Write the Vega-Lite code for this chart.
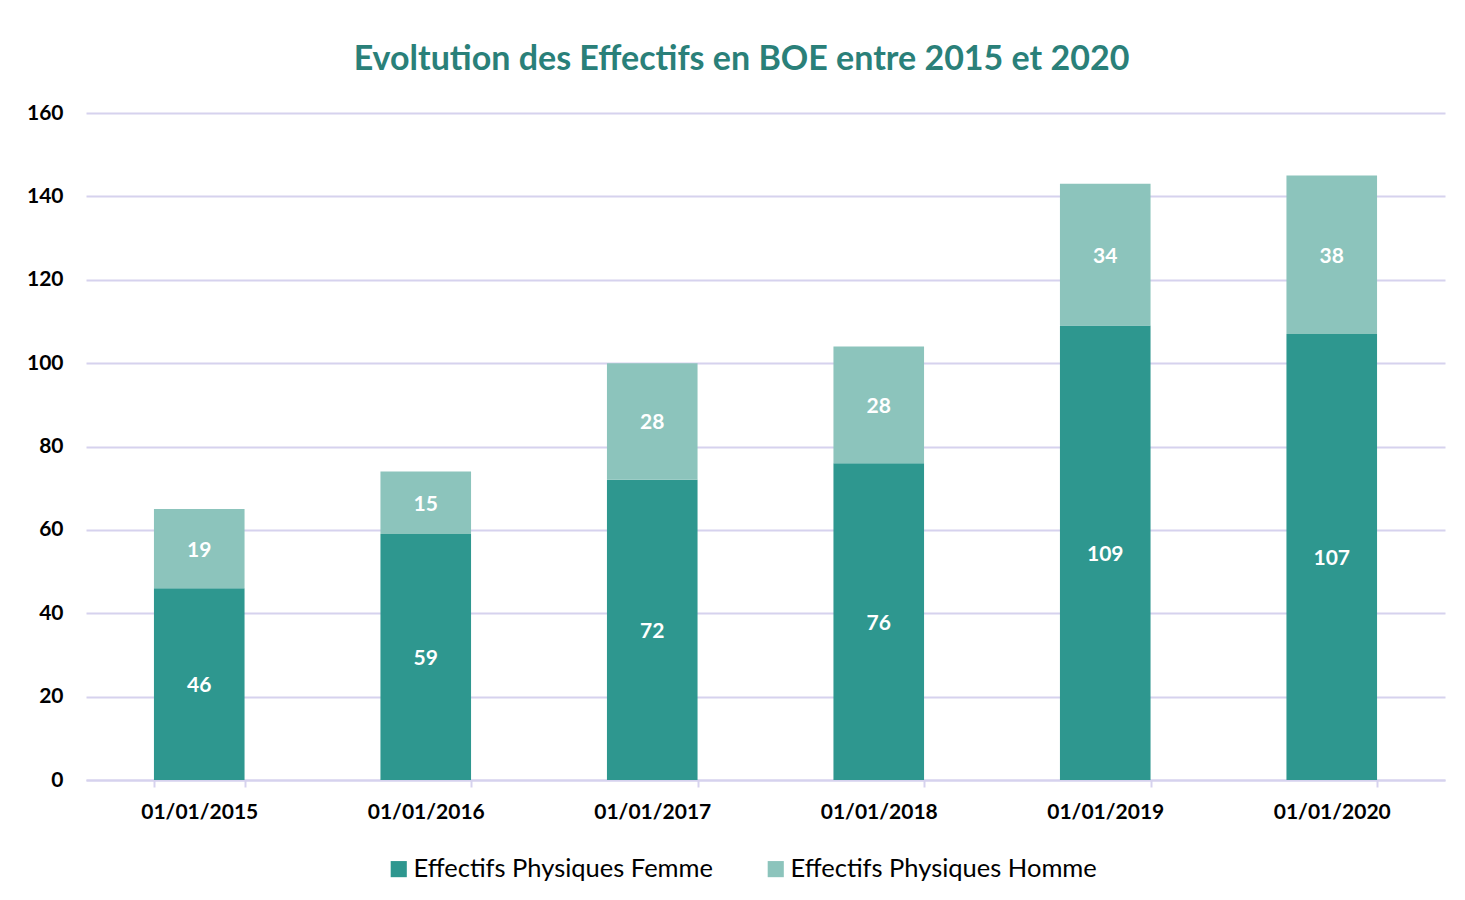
{
  "$schema": "https://vega.github.io/schema/vega-lite/v6.json",
  "width": 1359,
  "height": 667,
  "autosize": {"type": "none"},
  "padding": {"left": 86, "top": 113, "right": 20, "bottom": 120},
  "background": "white",
  "config": {
    "font": "Lato",
    "view": {"stroke": null}
  },
  "title": {
    "text": "Evoltution des Effectifs en BOE entre 2015 et 2020",
    "font": "Lato",
    "fontSize": 34,
    "fontWeight": "bold",
    "color": "#2A8079",
    "anchor": "middle",
    "dx": -24,
    "offset": 25
  },
  "data": {
    "values": [
      {"date": "01/01/2015", "serie": "Effectifs Physiques Femme", "ordre": 1, "valeur": 46},
      {"date": "01/01/2015", "serie": "Effectifs Physiques Homme", "ordre": 2, "valeur": 19},
      {"date": "01/01/2016", "serie": "Effectifs Physiques Femme", "ordre": 1, "valeur": 59},
      {"date": "01/01/2016", "serie": "Effectifs Physiques Homme", "ordre": 2, "valeur": 15},
      {"date": "01/01/2017", "serie": "Effectifs Physiques Femme", "ordre": 1, "valeur": 72},
      {"date": "01/01/2017", "serie": "Effectifs Physiques Homme", "ordre": 2, "valeur": 28},
      {"date": "01/01/2018", "serie": "Effectifs Physiques Femme", "ordre": 1, "valeur": 76},
      {"date": "01/01/2018", "serie": "Effectifs Physiques Homme", "ordre": 2, "valeur": 28},
      {"date": "01/01/2019", "serie": "Effectifs Physiques Femme", "ordre": 1, "valeur": 109},
      {"date": "01/01/2019", "serie": "Effectifs Physiques Homme", "ordre": 2, "valeur": 34},
      {"date": "01/01/2020", "serie": "Effectifs Physiques Femme", "ordre": 1, "valeur": 107},
      {"date": "01/01/2020", "serie": "Effectifs Physiques Homme", "ordre": 2, "valeur": 38}
    ]
  },
  "transform": [
    {"stack": "valeur", "groupby": ["date"], "sort": [{"field": "ordre", "order": "ascending"}], "as": ["y0", "y1"]},
    {"calculate": "(datum.y0 + datum.y1) / 2", "as": "ymid"}
  ],
  "encoding": {
    "x": {
      "field": "date",
      "type": "nominal",
      "title": null,
      "scale": {"paddingInner": 0.6, "paddingOuter": 0.3},
      "axis": {
        "labelAngle": 0,
        "labelFont": "Lato",
        "labelFontSize": 21,
        "labelFontWeight": "bold",
        "labelColor": "#000000",
        "labelPadding": 14,
        "domainColor": "#D6D2EE",
        "domainWidth": 2,
        "tickColor": "#D6D2EE",
        "tickWidth": 2,
        "tickSize": 7,
        "tickBand": "extent",
        "grid": false
      }
    }
  },
  "layer": [
    {
      "mark": {"type": "bar"},
      "encoding": {
        "y": {
          "field": "y0",
          "type": "quantitative",
          "title": null,
          "scale": {"domain": [0, 160]},
          "axis": {
            "values": [0, 20, 40, 60, 80, 100, 120, 140, 160],
            "labelFont": "Lato",
            "labelFontSize": 21,
            "labelFontWeight": "bold",
            "labelColor": "#000000",
            "labelPadding": 23,
            "ticks": false,
            "domain": false,
            "gridColor": "#D6D2EE",
            "gridWidth": 2
          }
        },
        "y2": {"field": "y1"},
        "color": {
          "field": "serie",
          "type": "nominal",
          "scale": {
            "domain": ["Effectifs Physiques Femme", "Effectifs Physiques Homme"],
            "range": ["#2E978F", "#8CC4BC"]
          },
          "legend": {
            "title": null,
            "orient": "none",
            "direction": "horizontal",
            "legendX": 300,
            "legendY": 743,
            "symbolType": "square",
            "symbolSize": 260,
            "symbolStrokeWidth": 0,
            "labelFont": "Lato",
            "labelFontSize": 25.5,
            "labelLimit": 600,
            "labelColor": "#000000",
            "columnPadding": 49,
            "labelOffset": 2
          }
        }
      }
    },
    {
      "mark": {"type": "text", "color": "white", "font": "Lato", "fontSize": 21, "fontWeight": "bold", "dy": 2},
      "encoding": {
        "y": {"field": "ymid", "type": "quantitative"},
        "text": {"field": "valeur", "type": "quantitative"}
      }
    }
  ]
}
